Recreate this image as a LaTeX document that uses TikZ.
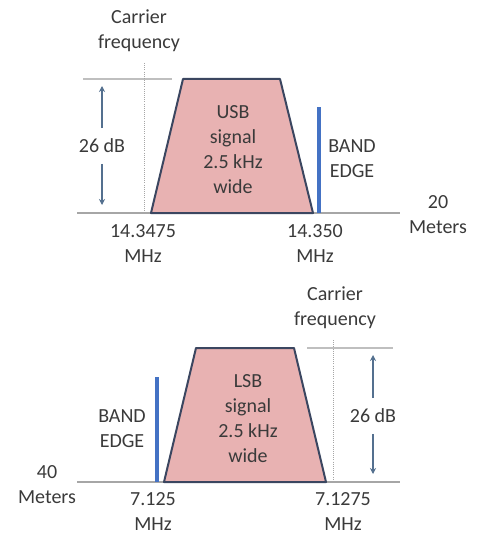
\documentclass[tikz,border=0pt]{standalone}
\usepackage{fontspec}
\setmainfont{Carlito}
\usepackage{xcolor}
\usepackage{tikz}
\usetikzlibrary{arrows.meta,calc,positioning}
\definecolor{sbpink}{HTML}{E8B2B2}
\definecolor{sbedge}{HTML}{3B4660}
\definecolor{sbarrow}{HTML}{54708F}
\definecolor{sbblue}{HTML}{4472C4}
\definecolor{sbgray}{HTML}{BFBFBF}
\definecolor{sbaxis}{HTML}{A6A6A6}
\definecolor{sbtext}{HTML}{3A3A3A}
\tikzset{
lbl/.style={
	align=center,
	inner sep=0pt,
	text=sbtext,
	font=\fontsize{15}{18.75}\selectfont
},
dblbl/.style={lbl, inner ysep=8pt},
signal/.style={fill=sbpink, draw=sbedge, line width=1.5pt, line join=round},
axisline/.style={draw=sbaxis, line width=1.1pt},
toplevel/.style={draw=sbgray, line width=1.1pt},
carrier/.style={draw=sbaxis, densely dotted, line width=0.6pt},
bandedge/.style={draw=sbblue, line width=2.4pt},
dbarrow/.style={-{Stealth[length=4.5pt,width=4.5pt]}, draw=sbarrow, line width=1.6pt}
}
\begin{document}
\begin{tikzpicture}[x=0.75pt,y=-0.75pt]
\useasboundingbox (0,0) rectangle (478,535);

% ── 20 meters: USB signal below the band edge ─────────────────
\coordinate (uAxL) at (77,213);
\coordinate (uAxR) at (400,213);
\coordinate (uLvL) at (83,79);
\coordinate (uLvR) at (172,79);
\coordinate (uCfT) at (144,63);
\coordinate (uCfB) at (144,213);
\coordinate (uBeT) at (319,107);
\coordinate (uBeB) at (319,213);
\coordinate (uDbT) at (102,86);
\coordinate (uDbB) at (102,205);

\draw[axisline] (uAxL) -- (uAxR);
\draw[toplevel] (uLvL) -- (uLvR);
\draw[carrier] (uCfT) -- (uCfB);
\draw[signal] (151,213) -- (183,79) -- (280,79) -- (313,213) -- cycle;
\draw[bandedge] (uBeT) -- (uBeB);

\node[lbl] (uCarrier) at (139,31) {Carrier\\frequency};
\node[lbl] (uSignal) at (233,150) {USB\\signal\\2.5 kHz\\wide};
\node[lbl] (uEdge) at (352,159) {BAND\\EDGE};
\node[dblbl] (uDb) at (102,146) {26 dB};
\draw[dbarrow] (uDb.north) -- (uDbT);
\draw[dbarrow] (uDb.south) -- (uDbB);
\node[lbl] (uLow) at (143,244) {14.3475\\MHz};
\node[lbl] (uHigh) at (315,244) {14.350\\MHz};
\node[lbl] (uBand) at (438,215) {20\\Meters};

% ── 40 meters: LSB signal above the band edge ─────────────────
\coordinate (lAxL) at (77,482);
\coordinate (lAxR) at (400,482);
\coordinate (lLvL) at (307,348);
\coordinate (lLvR) at (393,348);
\coordinate (lCfT) at (333,340);
\coordinate (lCfB) at (333,482);
\coordinate (lBeT) at (157,377);
\coordinate (lBeB) at (157,482);
\coordinate (lDbT) at (373,355);
\coordinate (lDbB) at (373,474);

\draw[axisline] (lAxL) -- (lAxR);
\draw[toplevel] (lLvL) -- (lLvR);
\draw[carrier] (lCfT) -- (lCfB);
\draw[signal] (164,482) -- (196,348) -- (294,348) -- (326,482) -- cycle;
\draw[bandedge] (lBeT) -- (lBeB);

\node[lbl] (lCarrier) at (335,308) {Carrier\\frequency};
\node[lbl] (lSignal) at (248,419) {LSB\\signal\\2.5 kHz\\wide};
\node[lbl] (lEdge) at (122,429) {BAND\\EDGE};
\node[dblbl] (lDb) at (373,416) {26 dB};
\draw[dbarrow] (lDb.north) -- (lDbT);
\draw[dbarrow] (lDb.south) -- (lDbB);
\node[lbl] (lLow) at (153,512) {7.125\\MHz};
\node[lbl] (lHigh) at (343,512) {7.1275\\MHz};
\node[lbl] (lBand) at (47,485) {40\\Meters};
\end{tikzpicture}
\end{document}
